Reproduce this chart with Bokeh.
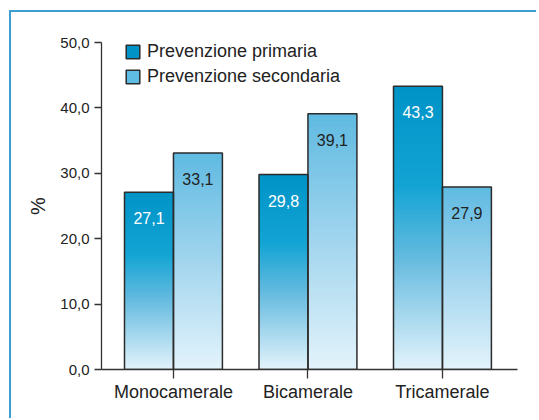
from bokeh.plotting import figure
from bokeh.models import Range1d, FixedTicker, Legend, LegendItem
from bokeh.embed import file_html
from bokeh.resources import INLINE
from bokeh.core.properties import value

categories = ["Monocamerale", "Bicamerale", "Tricamerale"]
primaria = [27.1, 29.8, 43.3]
secondaria = [33.1, 39.1, 27.9]
labels_primaria = ["27,1", "29,8", "43,3"]
labels_secondaria = ["33,1", "39,1", "27,9"]
series_names = ["Prevenzione primaria", "Prevenzione secondaria"]
y_ticks = [0, 10, 20, 30, 40, 50]
y_tick_labels = ["0,0", "10,0", "20,0", "30,0", "40,0", "50,0"]

FONT = "Liberation Sans"
W, H = 527, 408
ML, MT = 90, 30
FW, FH = 416, 327
p = figure(width=W, height=H, output_backend="svg", toolbar_location=None,
           x_range=Range1d(-0.535, 2.558), y_range=Range1d(0, 50),
           min_border_left=ML, min_border_right=W - ML - FW,
           min_border_top=MT, min_border_bottom=H - MT - FH)
p.styles = {"border-left": "2px solid #3d9fd0", "border-top": "2px solid #3d9fd0",
            "margin-top": "10px", "margin-left": "9px"}
p.outline_line_color = None
p.xgrid.visible = False
p.ygrid.visible = False
p.background_fill_color = "white"
p.border_fill_color = "white"


def hex2rgb(h):
    h = h.lstrip("#")
    return [int(h[i:i + 2], 16) for i in (0, 2, 4)]


def interp(stops, t):
    for (t0, c0), (t1, c1) in zip(stops[:-1], stops[1:]):
        if t0 <= t <= t1:
            f = (t - t0) / (t1 - t0) if t1 > t0 else 0
            a, b = hex2rgb(c0), hex2rgb(c1)
            return "#%02x%02x%02x" % tuple(int(round(a[i] + (b[i] - a[i]) * f)) for i in range(3))
    return stops[-1][1]


# stops: t=0 at top, t=1 at bottom
stops_prim = [(0.0, "#0093c6"), (0.35, "#13a4d4"), (0.6, "#63badf"), (1.0, "#e3f3fb")]
stops_sec = [(0.0, "#5fbae1"), (0.5, "#a2d5ee"), (1.0, "#e3f3fb")]

BW = 0.364
N = 80
sl_l, sl_r, sl_b, sl_t, sl_c = [], [], [], [], []
for i, cat in enumerate(categories):
    for val, off, stops in ((primaria[i], -BW / 2, stops_prim), (secondaria[i], BW / 2, stops_sec)):
        for k in range(N):
            b = val * k / N
            t = min(val * (k + 2) / N, val)
            frac = 1 - (k + 0.5) / N
            sl_l.append(i + off - BW / 2)
            sl_r.append(i + off + BW / 2)
            sl_b.append(b)
            sl_t.append(t)
            sl_c.append(interp(stops, frac))
p.quad(left=sl_l, right=sl_r, bottom=sl_b, top=sl_t, fill_color=sl_c, line_color=None)

xs = list(range(len(categories)))
p.quad(left=[x - BW for x in xs], right=xs, bottom=0, top=primaria,
       fill_color=None, line_color="#2b2b2b", line_width=1.5)
p.quad(left=xs, right=[x + BW for x in xs], bottom=0, top=secondaria,
       fill_color=None, line_color="#2b2b2b", line_width=1.5)

p.text(x=[x - BW / 2 for x in xs], y=primaria, text=labels_primaria, text_color="white",
       text_font=value(FONT), text_font_size="16px", text_align="center",
       text_baseline="top", y_offset=20)
p.text(x=[x + BW / 2 for x in xs], y=secondaria, text=labels_secondaria, text_color="#222222",
       text_font=value(FONT), text_font_size="16px", text_align="center",
       text_baseline="top", y_offset=20)

# legend proxies (outside visible range)
r1 = p.quad(left=[0], right=[0.1], bottom=[-20], top=[-10], fill_color="#0093c6",
            line_color="#2b2b2b", line_width=1.5)
r2 = p.quad(left=[0], right=[0.1], bottom=[-20], top=[-10], fill_color="#5fbde3",
            line_color="#2b2b2b", line_width=1.5)
legend = Legend(items=[LegendItem(label=series_names[0], renderers=[r1]),
                       LegendItem(label=series_names[1], renderers=[r2])],
                location=(23, 282), orientation="vertical",
                glyph_width=17, glyph_height=17, label_height=21, spacing=4,
                padding=0, margin=0, label_standoff=6,
                label_text_font=FONT, label_text_font_size="18px", label_text_color="#222222",
                border_line_color=None, background_fill_alpha=0)
p.add_layout(legend)

# axes
p.xaxis.ticker = FixedTicker(ticks=xs)
p.xaxis.major_label_overrides = {x: c for x, c in zip(xs, categories)}
p.xaxis.major_label_text_font = FONT
p.xaxis.major_label_text_font_size = "18px"
p.xaxis.major_label_text_color = "#222222"
p.xaxis.major_tick_out = 9
p.xaxis.major_tick_in = 0
p.xaxis.minor_tick_line_color = None
p.xaxis.axis_line_color = "#333333"
p.xaxis.axis_line_width = 1.3
p.xaxis.major_tick_line_color = "#333333"
p.xaxis.major_tick_line_width = 1.3
p.xaxis.major_label_standoff = 3

p.yaxis.ticker = FixedTicker(ticks=y_ticks)
p.yaxis.major_label_overrides = {t: l for t, l in zip(y_ticks, y_tick_labels)}
p.yaxis.major_label_text_font = FONT
p.yaxis.major_label_text_font_size = "15px"
p.yaxis.major_label_text_color = "#222222"
p.yaxis.major_tick_out = 7
p.yaxis.major_tick_in = 0
p.yaxis.minor_tick_line_color = None
p.yaxis.axis_line_color = "#333333"
p.yaxis.axis_line_width = 1.3
p.yaxis.major_tick_line_color = "#333333"
p.yaxis.major_tick_line_width = 1.3
p.yaxis.major_label_standoff = 5
p.yaxis.axis_label = "%"
p.yaxis.axis_label_text_font = FONT
p.yaxis.axis_label_text_font_style = "normal"
p.yaxis.axis_label_text_font_size = "20px"
p.yaxis.axis_label_text_color = "#222222"
p.yaxis.axis_label_standoff = 8

open("out.html", "w").write(file_html(p, INLINE))
